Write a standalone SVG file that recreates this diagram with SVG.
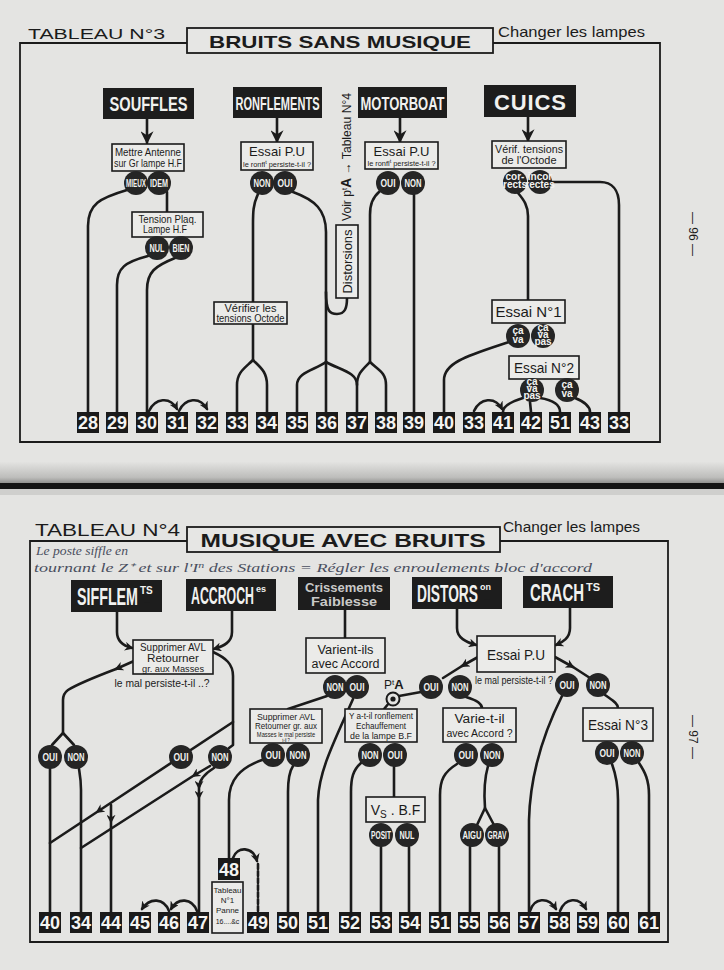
<svg xmlns="http://www.w3.org/2000/svg" width="724" height="970" viewBox="0 0 724 970">
<defs>
<linearGradient id="fold" x1="0" y1="0" x2="0" y2="1">
<stop offset="0" stop-color="#e3e3e1"/><stop offset="0.7" stop-color="#bdbdbb"/><stop offset="1" stop-color="#8a8a88"/>
</linearGradient>
<marker id="ah" viewBox="0 0 10 10" refX="8" refY="5" markerWidth="9" markerHeight="9" orient="auto" markerUnits="userSpaceOnUse"><path d="M0,0 L10,5 L0,10 L3,5 z" fill="#1b1b1b"/></marker>
<marker id="ahb" viewBox="0 0 10 10" refX="9" refY="5" markerWidth="13" markerHeight="13" orient="auto" markerUnits="userSpaceOnUse"><path d="M0,0 L10,5 L0,10 L3,5 z" fill="#1b1b1b"/></marker>
<style>
.ln{fill:none;stroke:#1b1b1b;stroke-width:2.6;stroke-linecap:round;stroke-linejoin:round}
.fr{fill:none;stroke:#1b1b1b;stroke-width:1.8}
.hd rect{fill:#1d1d1d}
.hd text{fill:#f1f1ef;font-family:'Liberation Sans Narrow','Liberation Sans',Arial,sans-serif;font-weight:bold}
.bx rect{fill:#ebebe9;stroke:#1b1b1b;stroke-width:1.6}
.bx text,.lbl{fill:#1b1b1b;font-family:'Liberation Sans Narrow','Liberation Sans',Arial,sans-serif;text-anchor:middle}
.ci circle{fill:#252525}
.ci text{fill:#f3f3f1;font-family:'Liberation Sans Narrow','Liberation Sans',Arial,sans-serif;font-weight:bold;text-anchor:middle;font-size:10px}
.nb rect{fill:#1a1a1a}
.nb text{fill:#f4f4f2;font-family:'Liberation Sans Narrow','Liberation Sans',Arial,sans-serif;font-weight:bold;font-size:18px;text-anchor:middle}
.ttl{fill:#1b1b1b;font-family:'Liberation Sans',Arial,sans-serif}
.hw{fill:#4a4f60;font-family:'Liberation Serif','Times New Roman',serif;font-style:italic}
.dash{fill:#f1f1ef}
</style>
</defs>
<rect x="0" y="0" width="724" height="970" fill="#e4e4e2"/>
<rect x="0" y="462" width="724" height="22" fill="url(#fold)"/>
<rect x="0" y="483" width="724" height="6" fill="#141414"/>
<rect x="0" y="489" width="724" height="6" fill="#cfcfcd"/>

<!-- ===== TOP PAGE ===== -->
<path class="fr" d="M187,43 H20 V442 H660 V43 H493"/>
<g id="title3">
<text class="ttl" x="28" y="39" font-size="15" textLength="137" lengthAdjust="spacingAndGlyphs">TABLEAU N°3</text>
<rect x="187" y="28" width="306" height="25" fill="#e6e6e4" stroke="#1b1b1b" stroke-width="1.8"/>
<text class="ttl" x="340" y="48" font-size="17" font-weight="bold" text-anchor="middle" textLength="262" lengthAdjust="spacingAndGlyphs">BRUITS SANS MUSIQUE</text>
<text class="ttl" x="498" y="37" font-size="15" textLength="147" lengthAdjust="spacingAndGlyphs">Changer les lampes</text>
</g>
<text class="ttl" transform="translate(689,234) rotate(90)" font-size="12" text-anchor="middle">— 96 —</text>

<g id="connectors-top">
<path class="ln" d="M147,119 V143" marker-end="url(#ahb)"/>
<path class="ln" d="M277,118 V142" marker-end="url(#ahb)"/>
<path class="ln" d="M400,117 V142" marker-end="url(#ahb)"/>
<path class="ln" d="M528,117 V141" marker-end="url(#ahb)"/>
<path class="ln" d="M127,190 C100,198 88,204 88,226 V412"/>
<path class="ln" d="M167,192 V212"/>
<path class="ln" d="M148,256 C125,262 117,268 117,285 V412"/>
<path class="ln" d="M175,258 C155,266 147,272 147,290 V412"/>
<path class="ln" d="M149,411 C155,398 170,396 177,409" marker-end="url(#ah)"/>
<path class="ln" d="M179,411 C185,398 200,396 207,409" marker-end="url(#ah)"/>
<path class="ln" d="M258,194 C253,205 253,212 253,225 V302"/>
<path class="ln" d="M253,324 V360 C245,368 237,372 237,385 V412"/>
<path class="ln" d="M253,360 C261,368 267,372 267,385 V412"/>
<path class="ln" d="M293,192 C315,200 326,210 326,232 V412"/>
<path class="ln" d="M326,292 C326,312 330,314 337,314 C345,314 347,308 347,298"/>
<path class="ln" d="M326,362 C315,370 297,372 297,385 V412"/>
<path class="ln" d="M326,362 C340,370 357,372 357,385 V412"/>
<path class="ln" d="M380,191 C372,198 370,205 370,215 V362 C362,370 357,374 357,385"/>
<path class="ln" d="M370,362 C378,370 386,372 386,385 V412"/>
<path class="ln" d="M414,195 V412"/>
<path class="ln" d="M518,193 C524,200 528,206 528,216 V300"/>
<path class="ln" d="M552,182 H600 C612,182 619,190 619,205 V412"/>
<path class="ln" d="M509,342 C470,355 444,362 444,380 V412"/>
<path class="ln" d="M474,411 C480,398 495,396 502,409" marker-end="url(#ah)"/>
<path class="ln" d="M523,398 C510,402 503,406 503,412"/>
<path class="ln" d="M530,402 L531,412"/>
<path class="ln" d="M540,398 C553,400 560,404 560,412"/>
<path class="ln" d="M575,398 C585,402 590,406 590,412"/>
</g>

<g id="h-souffles" class="hd"><rect x="103" y="88" width="91" height="31"/><text x="148.5" y="111" font-size="20" text-anchor="middle" textLength="78" lengthAdjust="spacingAndGlyphs">SOUFFLES</text></g>
<g id="h-ronflements" class="hd"><rect x="233" y="87" width="89" height="31"/><text x="277.5" y="110" font-size="19" text-anchor="middle" textLength="84" lengthAdjust="spacingAndGlyphs">RONFLEMENTS</text></g>
<g id="h-motorboat" class="hd"><rect x="358" y="87" width="89" height="31"/><text x="402.5" y="110" font-size="19" text-anchor="middle" textLength="84" lengthAdjust="spacingAndGlyphs">MOTORBOAT</text></g>
<g id="h-cuics" class="hd"><rect x="484" y="85" width="92" height="32"/><text x="530" y="110" font-size="22" text-anchor="middle" font-family="'Liberation Sans',Arial,sans-serif" textLength="72" lengthAdjust="spacing">CUICS</text></g>

<g id="b-antenne" class="bx"><rect x="112" y="144" width="72" height="27"/><text x="148" y="156" font-size="10.5" textLength="66" lengthAdjust="spacingAndGlyphs">Mettre Antenne</text><text x="148" y="167" font-size="10.5" textLength="68" lengthAdjust="spacingAndGlyphs">sur Gr lampe H.F</text></g>
<g id="c-mieux" class="ci"><circle cx="136" cy="183" r="12"/><text x="136" y="186.5" textLength="20" lengthAdjust="spacingAndGlyphs">MIEUX</text></g>
<g id="c-idem" class="ci"><circle cx="159" cy="183" r="12"/><text x="159" y="186.5" textLength="18" lengthAdjust="spacingAndGlyphs">IDEM</text></g>
<g id="b-tension" class="bx"><rect x="132" y="212" width="71" height="25"/><text x="167.5" y="223" font-size="10.5" textLength="58" lengthAdjust="spacingAndGlyphs">Tension Plaq.</text><text x="165" y="233" font-size="10.5" textLength="44" lengthAdjust="spacingAndGlyphs">Lampe H.F</text></g>
<g id="c-nul" class="ci"><circle cx="157" cy="248" r="12"/><text x="157" y="251.5" textLength="15" lengthAdjust="spacingAndGlyphs">NUL</text></g>
<g id="c-bien" class="ci"><circle cx="181" cy="248" r="12"/><text x="181" y="251.5" textLength="17" lengthAdjust="spacingAndGlyphs">BIEN</text></g>

<g id="b-essai-ronfl" class="bx"><rect x="241" y="142" width="72" height="28"/><text x="277" y="156" font-size="13" textLength="56" lengthAdjust="spacing">Essai P.U</text><text x="277" y="166.5" font-size="8" textLength="68" lengthAdjust="spacingAndGlyphs">le ronfl<tspan font-size="6" dy="-3">t</tspan><tspan dy="3"> persiste-t-il ?</tspan></text></g>
<g id="c-r-non" class="ci"><circle cx="262" cy="183" r="12"/><text x="262" y="186.5" textLength="17" lengthAdjust="spacingAndGlyphs">NON</text></g>
<g id="c-r-oui" class="ci"><circle cx="285" cy="183" r="12"/><text x="285" y="186.5" textLength="15" lengthAdjust="spacingAndGlyphs">OUI</text></g>

<g id="b-essai-motor" class="bx"><rect x="365" y="142" width="73" height="27"/><text x="401.5" y="156" font-size="13" textLength="56" lengthAdjust="spacing">Essai P.U</text><text x="401.5" y="166" font-size="8" textLength="68" lengthAdjust="spacingAndGlyphs">le ronfl<tspan font-size="6" dy="-3">t</tspan><tspan dy="3"> persiste-t-il ?</tspan></text></g>
<g id="c-m-oui" class="ci"><circle cx="388" cy="183" r="12"/><text x="388" y="186.5" textLength="15" lengthAdjust="spacingAndGlyphs">OUI</text></g>
<g id="c-m-non" class="ci"><circle cx="413" cy="183" r="12"/><text x="413" y="186.5" textLength="17" lengthAdjust="spacingAndGlyphs">NON</text></g>

<g id="b-distorsions" class="bx"><rect x="336" y="225" width="22" height="73"/><text transform="translate(352,261.5) rotate(-90)" font-size="13" textLength="64" lengthAdjust="spacingAndGlyphs">Distorsions</text></g>
<g id="t-voir"><text class="ttl" transform="translate(351,221) rotate(-90)" font-size="12.5" textLength="128" lengthAdjust="spacingAndGlyphs">Voir p<tspan font-size="8" dy="-4">t</tspan><tspan dy="4" font-weight="bold" font-size="14">A</tspan><tspan font-weight="bold"> → </tspan>Tableau N°4</text></g>

<g id="b-verifier" class="bx"><rect x="214" y="302" width="73" height="22"/><text x="250.5" y="311.5" font-size="10" textLength="52" lengthAdjust="spacingAndGlyphs">Vérifier les</text><text x="250.5" y="321.5" font-size="10" textLength="68" lengthAdjust="spacingAndGlyphs">tensions Octode</text></g>

<g id="b-verif-octode" class="bx"><rect x="492" y="141" width="74" height="27"/><text x="529" y="153" font-size="11" textLength="68" lengthAdjust="spacingAndGlyphs">Vérif. tensions</text><text x="529" y="164" font-size="11" textLength="55" lengthAdjust="spacingAndGlyphs">de l'Octode</text></g>
<g id="c-corrects" class="ci"><circle cx="515" cy="182" r="12"/><text x="515" y="180" font-size="8" font-weight="normal">cor-<tspan x="515" dy="8">rects</tspan></text></g>
<g id="c-incorrectes" class="ci"><circle cx="540" cy="182" r="12"/><text x="540" y="180" font-size="8" font-weight="normal">incor<tspan x="540" dy="8">rectes</tspan></text></g>
<g id="b-essai1" class="bx"><rect x="492" y="300" width="73" height="23"/><text x="528.5" y="317" font-size="15" font-family="'Liberation Sans',Arial,sans-serif">Essai N°1</text></g>
<g id="c-cava1" class="ci"><circle cx="518" cy="336" r="12"/><text x="518" y="334" font-size="9" font-weight="normal">ça<tspan x="518" dy="9">va</tspan></text></g>
<g id="c-cavapas1" class="ci"><circle cx="543" cy="336" r="12"/><text x="543" y="331" font-size="8" font-weight="normal">ça<tspan x="543" dy="7">va</tspan><tspan x="543" dy="7">pas</tspan></text></g>
<g id="b-essai2" class="bx"><rect x="509" y="356" width="70" height="23"/><text x="544" y="373" font-size="15" font-family="'Liberation Sans',Arial,sans-serif" textLength="60" lengthAdjust="spacingAndGlyphs">Essai N°2</text></g>
<g id="c-cavapas2" class="ci"><circle cx="532" cy="390" r="12"/><text x="532" y="385" font-size="8" font-weight="normal">ça<tspan x="532" dy="7">va</tspan><tspan x="532" dy="7">pas</tspan></text></g>
<g id="c-cava2" class="ci"><circle cx="567" cy="390" r="12"/><text x="567" y="388" font-size="9" font-weight="normal">ça<tspan x="567" dy="9">va</tspan></text></g>

<g id="nums-top" class="nb">
<g id="n28"><rect x="77" y="412" width="22" height="21"/><text x="88" y="429">28</text></g>
<g id="n29"><rect x="106" y="412" width="22" height="21"/><text x="117" y="429">29</text></g>
<g id="n30"><rect x="136" y="412" width="22" height="21"/><text x="147" y="429">30</text></g>
<g id="n31"><rect x="166" y="412" width="22" height="21"/><text x="177" y="429">31</text></g>
<g id="n32"><rect x="196" y="412" width="22" height="21"/><text x="207" y="429">32</text></g>
<g id="n33a"><rect x="226" y="412" width="22" height="21"/><text x="237" y="429">33</text></g>
<g id="n34"><rect x="256" y="412" width="22" height="21"/><text x="267" y="429">34</text></g>
<g id="n35"><rect x="286" y="412" width="22" height="21"/><text x="297" y="429">35</text></g>
<g id="n36"><rect x="316" y="412" width="22" height="21"/><text x="327" y="429">36</text></g>
<g id="n37"><rect x="346" y="412" width="22" height="21"/><text x="357" y="429">37</text></g>
<g id="n38"><rect x="375" y="412" width="22" height="21"/><text x="386" y="429">38</text></g>
<g id="n39"><rect x="403" y="412" width="22" height="21"/><text x="414" y="429">39</text></g>
<g id="n40"><rect x="433" y="412" width="22" height="21"/><text x="444" y="429">40</text></g>
<g id="n33b"><rect x="463" y="412" width="22" height="21"/><text x="474" y="429">33</text></g>
<g id="n41"><rect x="492" y="412" width="22" height="21"/><text x="503" y="429">41</text></g>
<g id="n42"><rect x="520" y="412" width="22" height="21"/><text x="531" y="429">42</text></g>
<g id="n51a"><rect x="549" y="412" width="22" height="21"/><text x="560" y="429">51</text></g>
<g id="n43"><rect x="579" y="412" width="22" height="21"/><text x="590" y="429">43</text></g>
<g id="n33c"><rect x="608" y="412" width="22" height="21"/><text x="619" y="429">33</text></g>
</g>

<!-- ===== BOTTOM PAGE ===== -->
<path class="fr" d="M187,541 H30 V942 H668 V541 H500"/>
<g id="title4">
<text class="ttl" x="35" y="536" font-size="17" textLength="145" lengthAdjust="spacingAndGlyphs">TABLEAU N°4</text>
<rect x="187" y="527" width="313" height="25" fill="#e6e6e4" stroke="#1b1b1b" stroke-width="1.8"/>
<text class="ttl" x="343" y="547" font-size="18" font-weight="bold" text-anchor="middle" textLength="285" lengthAdjust="spacingAndGlyphs">MUSIQUE AVEC BRUITS</text>
<text class="ttl" x="503" y="532" font-size="14" textLength="137" lengthAdjust="spacingAndGlyphs">Changer les lampes</text>
</g>
<g id="note">
<text class="hw" x="36" y="555" font-size="12" textLength="92" lengthAdjust="spacingAndGlyphs">Le poste siffle en</text>
<text class="hw" x="34" y="572" font-size="12" textLength="558" lengthAdjust="spacingAndGlyphs">tournant le Z⁺ et sur l'I<tspan font-size="8" dy="-4">n</tspan><tspan dy="4"> des Stations = Régler les enroulements bloc d'accord</tspan></text>
</g>
<text class="ttl" transform="translate(689,737) rotate(90)" font-size="12" text-anchor="middle">— 97 —</text>

<g id="connectors-bottom">
<path class="ln" d="M117,612 V632 C117,642 124,646 132,648" marker-end="url(#ah)"/>
<path class="ln" d="M232,611 V632 C232,642 224,646 214,649" marker-end="url(#ah)"/>
<path class="ln" d="M134,661 L116,669" marker-end="url(#ah)"/>
<path class="ln" d="M116,669 C95,677 76,685 68,690 C64,693 63,696 63,700 V733 L52,745"/>
<path class="ln" d="M63,733 L74,745"/>
<path class="ln" d="M50,769 V912"/>
<path class="ln" d="M79,769 C80,775 81,780 81,790 V912"/>
<path class="ln" d="M213,652 C226,658 233,664 233,676 V745 L229,748"/>
<path class="ln" d="M233,722 L97,812 L50,843" marker-mid="url(#ah)"/>
<path class="ln" d="M111,805 L111,822 L111,912" marker-mid="url(#ah)"/>
<path class="ln" d="M210,766 L193,776 L81,848" marker-mid="url(#ah)"/>
<path class="ln" d="M214,768 C204,774 199,780 199,788 L199,798 L199,912" marker-mid="url(#ah)"/>
<path class="ln" d="M169,911 C164,898 150,897 142,909" marker-end="url(#ah)"/>
<path class="ln" d="M197,911 C192,898 178,897 171,909" marker-end="url(#ah)"/>
<path class="ln" d="M262,760 C240,768 229,780 229,800 V858"/>
<path class="ln" d="M233,858 C237,846 253,846 257,861" marker-end="url(#ah)"/>
<path class="ln" d="M258,864 V912" stroke-dasharray="5 2"/>
<path class="ln" d="M293,766 C289,772 288,780 288,792 V912"/>
<path class="ln" d="M345,610 V638"/>
<path class="ln" d="M327,696 L288,709"/>
<path class="ln" d="M353,699 C335,740 319,770 318,800 V912"/>
<path class="ln" d="M457,609 V628 C457,638 466,642 476,645" marker-end="url(#ah)"/>
<path class="ln" d="M570,608 V628 C570,638 563,642 556,645" marker-end="url(#ah)"/>
<path class="ln" d="M478,657 L462,666" marker-end="url(#ah)"/>
<path class="ln" d="M462,666 L443,678"/>
<path class="ln" d="M421,692 L399,696"/>
<path class="ln" d="M389,703 L384,709"/>
<path class="ln" d="M555,657 L573,667" marker-end="url(#ah)"/>
<path class="ln" d="M573,667 L590,678"/>
<path class="ln" d="M605,695 C612,700 618,703 618,708"/>
<path class="ln" d="M612,764 C616,775 618,785 618,800 V912"/>
<path class="ln" d="M639,763 C645,772 649,780 649,795 V912"/>
<path class="ln" d="M562,696 C540,740 530,780 529,820 V912"/>
<path class="ln" d="M530,911 C534,898 548,896 556,909" marker-end="url(#ah)"/>
<path class="ln" d="M560,911 C565,898 579,896 586,909" marker-end="url(#ah)"/>
<path class="ln" d="M466,697 C476,700 482,703 482,708"/>
<path class="ln" d="M457,764 C444,772 440,780 440,795 V912"/>
<path class="ln" d="M488,766 C484,780 484,795 485,808 L477,825"/>
<path class="ln" d="M485,808 L494,825"/>
<path class="ln" d="M470,847 V912"/>
<path class="ln" d="M499,847 V912"/>
<path class="ln" d="M361,763 C353,770 351,778 351,792 V912"/>
<path class="ln" d="M394,767 V797"/>
<path class="ln" d="M381,847 V912"/>
<path class="ln" d="M409,847 V912"/>
</g>

<g id="h-sifflem" class="hd"><rect x="71" y="580" width="91" height="32"/><text x="77" y="605" font-size="23"><tspan textLength="61" lengthAdjust="spacingAndGlyphs">SIFFLEM</tspan><tspan dx="2" dy="-11" font-size="10">TS</tspan></text><rect class="dash" x="144" y="601" width="6" height="1.6"/></g>
<g id="h-accroch" class="hd"><rect x="186" y="579" width="90" height="32"/><text x="191" y="604" font-size="23"><tspan textLength="63" lengthAdjust="spacingAndGlyphs">ACCROCH</tspan><tspan dx="2" dy="-12" font-size="9">es</tspan></text><rect class="dash" x="259" y="597" width="2" height="2"/><rect class="dash" x="259" y="602" width="2" height="2"/></g>
<g id="h-crissements" class="hd"><rect x="298" y="577" width="92" height="33"/><text x="344" y="592" font-size="13" font-weight="normal" text-anchor="middle" style="fill:#c9c9c7"><tspan textLength="78" lengthAdjust="spacingAndGlyphs">Crissements</tspan><tspan x="344" dy="14" textLength="66" lengthAdjust="spacingAndGlyphs">Faiblesse</tspan></text></g>
<g id="h-distors" class="hd"><rect x="412" y="577" width="90" height="32"/><text x="417" y="602" font-size="23"><tspan textLength="61" lengthAdjust="spacingAndGlyphs">DISTORS</tspan><tspan dx="2" dy="-12" font-size="9">on</tspan></text><rect class="dash" x="484" y="598" width="6" height="1.6"/></g>
<g id="h-crach" class="hd"><rect x="523" y="576" width="90" height="32"/><text x="530" y="601" font-size="23"><tspan textLength="54" lengthAdjust="spacingAndGlyphs">CRACH</tspan><tspan dx="2" dy="-10" font-size="11">TS</tspan></text><rect class="dash" x="590" y="598" width="6" height="1.8"/></g>

<g id="b-supprimer1" class="bx"><rect x="133" y="640" width="80" height="34"/><text x="173" y="651" font-size="10.5" textLength="66" lengthAdjust="spacingAndGlyphs">Supprimer AVL</text><text x="173" y="662" font-size="11" textLength="52" lengthAdjust="spacingAndGlyphs">Retourner</text><text x="173" y="671.5" font-size="9.5" textLength="62" lengthAdjust="spacingAndGlyphs">gr. aux Masses</text></g>
<text class="lbl" x="162" y="687" font-size="10.5" textLength="95" lengthAdjust="spacingAndGlyphs">le mal persiste-t-il ..?</text>
<g id="c-s-oui" class="ci"><circle cx="50" cy="757" r="12"/><text x="50" y="760.5" textLength="15" lengthAdjust="spacingAndGlyphs">OUI</text></g>
<g id="c-s-non" class="ci"><circle cx="76" cy="757" r="12"/><text x="76" y="760.5" textLength="17" lengthAdjust="spacingAndGlyphs">NON</text></g>
<g id="c-a-oui" class="ci"><circle cx="181" cy="757" r="12"/><text x="181" y="760.5" textLength="15" lengthAdjust="spacingAndGlyphs">OUI</text></g>
<g id="c-a-non" class="ci"><circle cx="220" cy="757" r="12"/><text x="220" y="760.5" textLength="17" lengthAdjust="spacingAndGlyphs">NON</text></g>

<g id="b-varient" class="bx"><rect x="306" y="638" width="79" height="35"/><text x="345.5" y="654" font-size="13" textLength="56" lengthAdjust="spacingAndGlyphs">Varient-ils</text><text x="345.5" y="668" font-size="12.5" textLength="68" lengthAdjust="spacingAndGlyphs">avec Accord</text></g>
<g id="c-v-non" class="ci"><circle cx="335" cy="687" r="12"/><text x="335" y="690.5" textLength="17" lengthAdjust="spacingAndGlyphs">NON</text></g>
<g id="c-v-oui" class="ci"><circle cx="357" cy="687" r="12"/><text x="357" y="690.5" textLength="15" lengthAdjust="spacingAndGlyphs">OUI</text></g>

<g id="b-supprimer2" class="bx"><rect x="250" y="709" width="72" height="34"/><text x="286" y="719.5" font-size="9.5" textLength="58" lengthAdjust="spacingAndGlyphs">Supprimer AVL</text><text x="286" y="729" font-size="8.5" textLength="62" lengthAdjust="spacingAndGlyphs">Retourner gr. aux</text><text x="286" y="737" font-size="7" textLength="66" lengthAdjust="spacingAndGlyphs">Masses le mal persiste<tspan x="286" dy="5" font-size="5">t-il ?</tspan></text></g>
<g id="c-s2-oui" class="ci"><circle cx="273" cy="755" r="12"/><text x="273" y="758.5" textLength="15" lengthAdjust="spacingAndGlyphs">OUI</text></g>
<g id="c-s2-non" class="ci"><circle cx="298" cy="755" r="12"/><text x="298" y="758.5" textLength="17" lengthAdjust="spacingAndGlyphs">NON</text></g>

<g id="p-A"><text class="ttl" x="384" y="689" font-size="12">P<tspan font-size="8" dy="-4">t</tspan><tspan dy="4" font-weight="bold" font-size="13">A</tspan></text><circle cx="393" cy="699" r="6.5" fill="#e4e4e2" stroke="#1b1b1b" stroke-width="2"/><circle cx="393" cy="699" r="2.6" fill="#1b1b1b"/></g>

<g id="b-essaipu" class="bx"><rect x="477" y="636" width="78" height="36"/><text x="516" y="660" font-size="15" textLength="58" lengthAdjust="spacingAndGlyphs">Essai P.U</text></g>
<text class="lbl" x="514" y="684" font-size="10" textLength="78" lengthAdjust="spacingAndGlyphs">le mal persiste-t-il ?</text>
<g id="c-d-oui" class="ci"><circle cx="431" cy="687" r="12"/><text x="431" y="690.5" textLength="15" lengthAdjust="spacingAndGlyphs">OUI</text></g>
<g id="c-d-non" class="ci"><circle cx="460" cy="687" r="12"/><text x="460" y="690.5" textLength="17" lengthAdjust="spacingAndGlyphs">NON</text></g>
<g id="c-c-oui" class="ci"><circle cx="567" cy="685" r="12"/><text x="567" y="688.5" textLength="15" lengthAdjust="spacingAndGlyphs">OUI</text></g>
<g id="c-c-non" class="ci"><circle cx="598" cy="685" r="12"/><text x="598" y="688.5" textLength="17" lengthAdjust="spacingAndGlyphs">NON</text></g>

<g id="b-yatil" class="bx"><rect x="345" y="709" width="72" height="33"/><text x="381" y="719" font-size="8.5" textLength="64" lengthAdjust="spacingAndGlyphs">Y a-t-il ronflement</text><text x="381" y="729" font-size="8.5" textLength="50" lengthAdjust="spacingAndGlyphs">Echauffement</text><text x="381" y="739" font-size="8.5" textLength="62" lengthAdjust="spacingAndGlyphs">de la lampe B.F</text></g>
<g id="c-y-non" class="ci"><circle cx="370" cy="755" r="12"/><text x="370" y="758.5" textLength="17" lengthAdjust="spacingAndGlyphs">NON</text></g>
<g id="c-y-oui" class="ci"><circle cx="395" cy="755" r="12"/><text x="395" y="758.5" textLength="15" lengthAdjust="spacingAndGlyphs">OUI</text></g>
<g id="b-vsbf" class="bx"><rect x="366" y="797" width="59" height="25"/><text x="395.5" y="815" font-size="14">V<tspan font-size="10" dy="3">S</tspan><tspan dy="-3"> . B.F</tspan></text></g>
<g id="c-posit" class="ci"><circle cx="381" cy="835" r="12"/><text x="381" y="838.5" font-size="9" textLength="20" lengthAdjust="spacingAndGlyphs">POSIT</text></g>
<g id="c-nul2" class="ci"><circle cx="407" cy="835" r="12"/><text x="407" y="838.5" textLength="15" lengthAdjust="spacingAndGlyphs">NUL</text></g>

<g id="b-varie" class="bx"><rect x="443" y="708" width="73" height="34"/><text x="479.5" y="723" font-size="12.5" textLength="50" lengthAdjust="spacingAndGlyphs">Varie-t-il</text><text x="479.5" y="737" font-size="11.5" textLength="66" lengthAdjust="spacingAndGlyphs">avec Accord ?</text></g>
<g id="c-va-oui" class="ci"><circle cx="466" cy="755" r="12"/><text x="466" y="758.5" textLength="15" lengthAdjust="spacingAndGlyphs">OUI</text></g>
<g id="c-va-non" class="ci"><circle cx="492" cy="755" r="12"/><text x="492" y="758.5" textLength="17" lengthAdjust="spacingAndGlyphs">NON</text></g>
<g id="c-aigu" class="ci"><circle cx="472" cy="835" r="12"/><text x="472" y="838.5" textLength="19" lengthAdjust="spacingAndGlyphs">AIGU</text></g>
<g id="c-grav" class="ci"><circle cx="497" cy="835" r="12"/><text x="497" y="838.5" textLength="19" lengthAdjust="spacingAndGlyphs">GRAV</text></g>

<g id="b-essai3" class="bx"><rect x="583" y="708" width="70" height="33"/><text x="618" y="730" font-size="15" font-family="'Liberation Sans',Arial,sans-serif" textLength="60" lengthAdjust="spacingAndGlyphs">Essai N°3</text></g>
<g id="c-e3-oui" class="ci"><circle cx="607" cy="753" r="12"/><text x="607" y="756.5" textLength="15" lengthAdjust="spacingAndGlyphs">OUI</text></g>
<g id="c-e3-non" class="ci"><circle cx="632" cy="753" r="12"/><text x="632" y="756.5" textLength="17" lengthAdjust="spacingAndGlyphs">NON</text></g>

<g id="b-tableau1" class="bx"><rect x="212" y="882" width="31" height="51"/><text x="227.5" y="893" font-size="8">Tableau<tspan x="227.5" dy="10">N°1</tspan><tspan x="227.5" dy="10">Panne</tspan><tspan x="227.5" dy="11" font-size="7">16....&amp;c</tspan></text></g>
<g id="n48" class="nb"><rect x="218" y="858" width="22" height="22"/><text x="229" y="876">48</text></g>

<g id="nums-bottom" class="nb">
<g id="m40"><rect x="39" y="912" width="22" height="21"/><text x="50" y="929">40</text></g>
<g id="m34"><rect x="70" y="912" width="22" height="21"/><text x="81" y="929">34</text></g>
<g id="m44"><rect x="100" y="912" width="22" height="21"/><text x="111" y="929">44</text></g>
<g id="m45"><rect x="129" y="912" width="22" height="21"/><text x="140" y="929">45</text></g>
<g id="m46"><rect x="158" y="912" width="22" height="21"/><text x="169" y="929">46</text></g>
<g id="m47"><rect x="187" y="912" width="22" height="21"/><text x="198" y="929">47</text></g>
<g id="m49"><rect x="247" y="912" width="22" height="21"/><text x="258" y="929">49</text></g>
<g id="m50"><rect x="277" y="912" width="22" height="21"/><text x="288" y="929">50</text></g>
<g id="m51a"><rect x="307" y="912" width="22" height="21"/><text x="318" y="929">51</text></g>
<g id="m52"><rect x="339" y="912" width="22" height="21"/><text x="350" y="929">52</text></g>
<g id="m53"><rect x="370" y="912" width="22" height="21"/><text x="381" y="929">53</text></g>
<g id="m54"><rect x="399" y="912" width="22" height="21"/><text x="410" y="929">54</text></g>
<g id="m51b"><rect x="429" y="912" width="22" height="21"/><text x="440" y="929">51</text></g>
<g id="m55"><rect x="458" y="912" width="22" height="21"/><text x="469" y="929">55</text></g>
<g id="m56"><rect x="488" y="912" width="22" height="21"/><text x="499" y="929">56</text></g>
<g id="m57"><rect x="518" y="912" width="22" height="21"/><text x="529" y="929">57</text></g>
<g id="m58"><rect x="548" y="912" width="22" height="21"/><text x="559" y="929">58</text></g>
<g id="m59"><rect x="577" y="912" width="22" height="21"/><text x="588" y="929">59</text></g>
<g id="m60"><rect x="607" y="912" width="22" height="21"/><text x="618" y="929">60</text></g>
<g id="m61"><rect x="638" y="912" width="22" height="21"/><text x="649" y="929">61</text></g>
</g>
</svg>
